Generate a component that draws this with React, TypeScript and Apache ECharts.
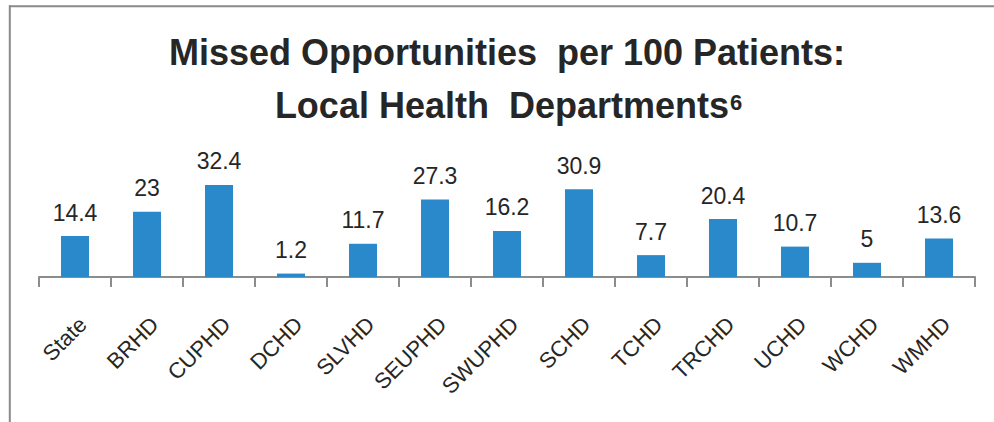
import React, { useEffect, useRef } from "react";
import * as echarts from "echarts";

const categories = ["State", "BRHD", "CUPHD", "DCHD", "SLVHD", "SEUPHD", "SWUPHD", "SCHD", "TCHD", "TRCHD", "UCHD", "WCHD", "WMHD"];
const missedPer100 = [14.4, 23, 32.4, 1.2, 11.7, 27.3, 16.2, 30.9, 7.7, 20.4, 10.7, 5, 13.6];
const titleLine1 = "Missed Opportunities  per 100 Patients:";
const titleLine2 = "Local Health  Departments";
const titleSup = "6";

const FONT = '"Liberation Sans", Arial, sans-serif';
const TEXT = "#262626";
const GRAY = "#8c8c8c";

export default function App() {
  const ref = useRef<HTMLDivElement>(null);
  useEffect(() => {
    if (!ref.current) return;
    const chart = echarts.init(ref.current, null, { renderer: "svg" });
    chart.setOption({
      animation: false,
      backgroundColor: "#ffffff",
      grid: { left: 39, right: 19, top: 163.4, bottom: 145, containLabel: false, outerBoundsMode: "none" },
      xAxis: {
        type: "category",
        data: categories,
        boundaryGap: true,
        axisLine: { show: true, lineStyle: { color: GRAY, width: 2 } },
        axisTick: { show: true, length: 10, lineStyle: { color: GRAY, width: 2 } },
        axisLabel: {
          rotate: 45,
          interval: 0,
          margin: 36,
          align: "right",
          verticalAlign: "top",
          fontFamily: FONT,
          fontSize: 22,
          color: TEXT,
        },
      },
      yAxis: {
        type: "value",
        min: 0,
        max: 40,
        show: false,
        splitLine: { show: false },
      },
      series: [
        {
          type: "bar",
          data: missedPer100,
          barWidth: 28,
          itemStyle: { color: "#2989CA" },
          label: {
            show: true,
            position: "top",
            distance: 12,
            fontFamily: FONT,
            fontSize: 23,
            color: TEXT,
          },
        },
      ],
      graphic: [
        { type: "line", shape: { x1: 9, y1: 6.3, x2: 994, y2: 6.3 }, style: { stroke: "#8a8a8a", lineWidth: 2 } },
        { type: "line", shape: { x1: 9.8, y1: 5.3, x2: 9.8, y2: 422 }, style: { stroke: "#8a8a8a", lineWidth: 2 } },
        {
          type: "text",
          x: 507,
          y: 52.5,
          style: { text: titleLine1, font: `bold 36px ${FONT}`, fill: TEXT, textAlign: "center", textVerticalAlign: "middle" },
        },
        {
          type: "text",
          x: 729,
          y: 105.5,
          style: { text: titleLine2, font: `bold 36px ${FONT}`, fill: TEXT, textAlign: "right", textVerticalAlign: "middle" },
        },
        {
          type: "text",
          x: 730,
          y: 102.5,
          style: { text: titleSup, font: `bold 22px ${FONT}`, fill: TEXT, textAlign: "left", textVerticalAlign: "middle" },
        },
      ],
    });
    return () => chart.dispose();
  }, []);
  return <div ref={ref} style={{ width: 994, height: 422, position: "absolute", left: 0, top: 0 }} />;
}
